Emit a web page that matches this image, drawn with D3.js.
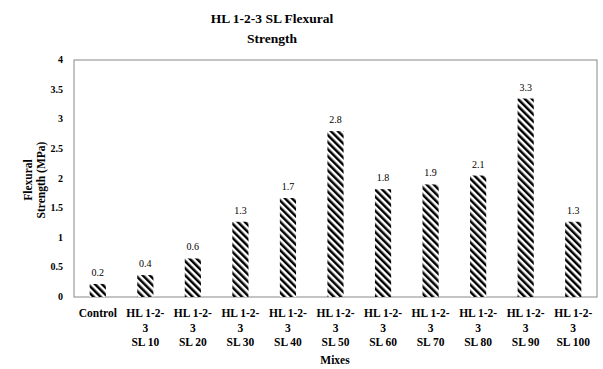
<!DOCTYPE html>
<html>
<head>
<meta charset="utf-8">
<script src="https://d3js.org/d3.v7.min.js"></script>
<style>
  body { margin: 0; background: #fff; }
  text { font-family: "Liberation Serif", "DejaVu Serif", serif; fill: #000; }
</style>
</head>
<body>
<script>
// data
var mixes = ['Control', 'SL 10', 'SL 20', 'SL 30', 'SL 40', 'SL 50', 'SL 60', 'SL 70', 'SL 80', 'SL 90', 'SL 100'];
var strength = [0.22, 0.37, 0.65, 1.27, 1.67, 2.8, 1.82, 1.9, 2.05, 3.35, 1.27];
var valueLabels = ['0.2', '0.4', '0.6', '1.3', '1.7', '2.8', '1.8', '1.9', '2.1', '3.3', '1.3'];
var yTicks = [0, 0.5, 1, 1.5, 2, 2.5, 3, 3.5, 4];

var W = 603, H = 369;
var plot = {left: 74, right: 597, top: 60, bottom: 297};

var svg = d3.select('body').append('svg')
  .attr('width', W).attr('height', H);

// hatch pattern
var pat = svg.append('defs').append('pattern')
  .attr('id', 'hatch')
  .attr('patternUnits', 'userSpaceOnUse')
  .attr('width', 5).attr('height', 5)
  .attr('patternTransform', 'rotate(-45)');
pat.append('rect').attr('width', 5).attr('height', 5).attr('fill', '#fff');
pat.append('rect').attr('x', 0).attr('width', 2.5).attr('height', 5).attr('fill', '#000');

var x = d3.scaleBand()
  .domain(mixes)
  .range([plot.left, plot.right])
  .paddingInner(0.66).paddingOuter(0.33);

var y = d3.scaleLinear()
  .domain([0, 4])
  .range([plot.bottom, plot.top]);

// frame
svg.append('rect')
  .attr('x', plot.left).attr('y', plot.top)
  .attr('width', plot.right - plot.left).attr('height', plot.bottom - plot.top)
  .attr('fill', 'none').attr('stroke', '#888').attr('stroke-width', 1);

// bars
svg.selectAll('.bar')
  .data(strength)
  .enter().append('rect')
  .attr('class', 'bar')
  .attr('x', function(d, i) { return x(mixes[i]); })
  .attr('y', function(d) { return y(d); })
  .attr('width', x.bandwidth())
  .attr('height', function(d) { return y(0) - y(d); })
  .attr('fill', 'url(#hatch)');

// value labels
svg.selectAll('.val')
  .data(strength)
  .enter().append('text')
  .attr('class', 'val')
  .attr('x', function(d, i) { return x(mixes[i]) + x.bandwidth() / 2; })
  .attr('y', function(d) { return y(d) - 8; })
  .attr('text-anchor', 'middle')
  .style('font-size', '10px')
  .text(function(d, i) { return valueLabels[i]; });

// y axis ticks
svg.selectAll('.ytick')
  .data(yTicks)
  .enter().append('text')
  .attr('class', 'ytick')
  .attr('x', 63)
  .attr('y', function(d) { return y(d) + 3; })
  .attr('text-anchor', 'end')
  .style('font-size', '10px')
  .style('font-weight', 'bold')
  .text(function(d) { return d; });

// x labels
var xl = svg.selectAll('.xlab')
  .data(mixes)
  .enter().append('text')
  .attr('class', 'xlab')
  .attr('text-anchor', 'middle')
  .style('font-size', '11.5px')
  .style('font-weight', 'bold');
xl.each(function(d) {
  var t = d3.select(this);
  var cx = x(d) + x.bandwidth() / 2;
  var lines = d === 'Control' ? ['Control'] : ['HL 1-2-', '3', d];
  lines.forEach(function(s, k) {
    t.append('tspan').attr('x', cx).attr('y', 317 + k * 14.5).text(s);
  });
});

// axis titles
svg.append('text')
  .attr('x', 335).attr('y', 364)
  .attr('text-anchor', 'middle')
  .style('font-size', '11.5px').style('font-weight', 'bold')
  .text('Mixes');

var yt = svg.append('text')
  .attr('transform', 'translate(32,180) rotate(-90)')
  .attr('text-anchor', 'middle')
  .style('font-size', '11.5px').style('font-weight', 'bold');
yt.append('tspan').attr('x', 0).attr('y', 0).text('Flexural');
yt.append('tspan').attr('x', 0).attr('y', 13).text('Strength (MPa)');

// title
var title = svg.append('text')
  .attr('text-anchor', 'middle')
  .style('font-size', '13.5px').style('font-weight', 'bold');
title.append('tspan').attr('x', 272).attr('y', 23).text('HL 1-2-3 SL Flexural');
title.append('tspan').attr('x', 272).attr('y', 43).text('Strength');
</script>
</body>
</html>
